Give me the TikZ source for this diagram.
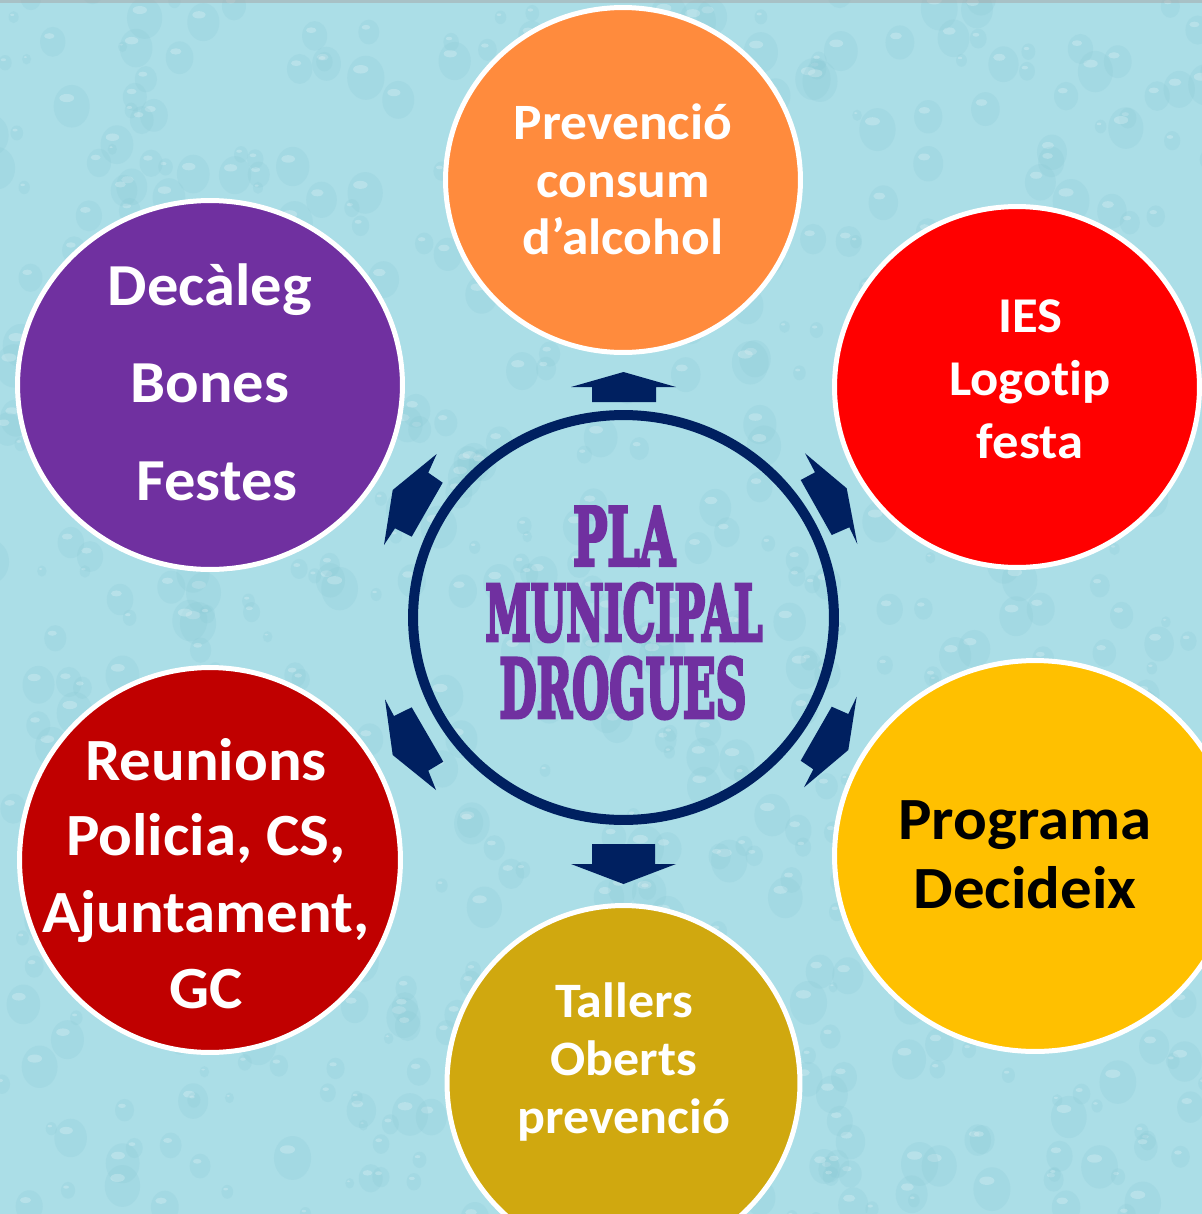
\documentclass[tikz,border=0pt]{standalone}
\usepackage{fontspec}
\usetikzlibrary{shapes.geometric}
\newfontfamily\calib{Carlito}[FakeStretch=1.05, Ligatures=NoCommon]
\newfontfamily\slab{DejaVu Serif}[BoldFeatures={FakeBold=5}]
\newcommand\setfs[2]{\fontsize{#1}{#2}\selectfont}
\definecolor{bgc}{HTML}{ABDEE7}
\definecolor{dropd}{HTML}{86C6D3}
\definecolor{navy}{HTML}{002060}
\definecolor{corange}{HTML}{FF8B3D}
\definecolor{cpurple}{HTML}{7030A0}
\definecolor{cred}{HTML}{FF0000}
\definecolor{cyellow}{HTML}{FFC000}
\definecolor{cdarkred}{HTML}{C00000}
\definecolor{colive}{HTML}{D0A80F}
\begin{document}
\begin{tikzpicture}[x=0.02cm,y=-0.02cm,
  bubble/.style={ellipse, draw=white, line width=0.1cm, inner sep=0pt},
  lbl/.style={anchor=base, inner sep=0pt, text=white, font=\calib\bfseries},
  big/.style={inner sep=0pt, text=cpurple, font=\slab\bfseries},
  arr/.style={fill=navy}]
\useasboundingbox (0,0) rectangle (1202,1214);
\clip (0,0) rectangle (1202,1214);
\fill[bgc] (0,0) rectangle (1202,1214);
% water drop texture
\pgfmathsetseed{17}
\foreach \i in {1,...,700}{
  \pgfmathsetmacro\xx{rnd*1220-10}
  \pgfmathsetmacro\yy{rnd*1230-10}
  \pgfmathsetmacro\rr{4+rnd*13}
  \fill[dropd, opacity=0.2] (\xx,\yy) ellipse [x radius={0.022cm*\rr}, y radius={0.026cm*\rr}];
  \fill[white, opacity=0.22] (\xx-0.3*\rr,\yy-0.5*\rr) ellipse [x radius={0.009cm*\rr}, y radius={0.005cm*\rr}];
}
\fill[black!35, opacity=0.5] (0,0) rectangle (1202,3);
% central ring
\draw[navy, line width=0.2cm] (623.5,617.5) ellipse [x radius=4.21cm, y radius=4.05cm];
% arrows
\fill[arr] (592,402) -- (592,387) -- (571,387) -- (623.5,372) -- (676,387) -- (656,387) -- (656,402) -- cycle;
\fill[arr] (592,844) -- (655,844) -- (655,864) -- (676,864) -- (623.5,884) -- (571,864) -- (592,864) -- cycle;
\fill[arr] (805,453.3) -- (815,472.3) -- (800.7,480) -- (831.7,535) -- (849.3,527.3) -- (857.3,544) -- (846.7,488.3) -- cycle;
\fill[arr] (436.7,454) -- (428.3,472.7) -- (442.7,482.7) -- (411.7,536.7) -- (395,528.3) -- (384,545) -- (392.7,490) -- cycle;
\fill[arr] (385,699.3) -- (394,716) -- (411.7,707.3) -- (443.3,761.7) -- (428.3,770.7) -- (436,790) -- (392.7,755) -- cycle;
\fill[arr] (856.7,696.7) -- (848.3,714) -- (831.7,706.7) -- (800.7,760.7) -- (813.3,769.3) -- (804,787.3) -- (848.3,750) -- cycle;
% circles
\node[bubble, fill=corange, minimum width=7.1cm, minimum height=6.9cm] (orange) at (623,180) {};
\node[bubble, fill=cpurple, minimum width=7.7cm, minimum height=7.38cm] (purple) at (210,385) {};
\node[bubble, fill=cred, minimum width=7.3cm, minimum height=7.22cm] (red) at (1017,387) {};
\node[bubble, fill=cyellow, minimum width=8.02cm, minimum height=7.82cm] (yellow) at (1035,856) {};
\node[bubble, fill=cdarkred, minimum width=7.62cm, minimum height=7.7cm] (darkred) at (210,860) {};
\node[bubble, fill=colive, minimum width=7.06cm, minimum height=7.1cm] (olive) at (623.5,1083) {};
% centre title
\node[big] (t1) at (624,536) {\resizebox{2.04cm}{1.16cm}{PLA}};
\node[big] (t2) at (624,612.5) {\resizebox{5.54cm}{1.14cm}{MUNICIPAL}};
\node[big] (t3) at (623,688) {\resizebox{4.94cm}{1.2cm}{DROGUES}};
% orange
\node[lbl, font=\calib\bfseries\setfs{29pt}{34pt}] (o1) at (623,139) {Prevenció};
\node[lbl, font=\calib\bfseries\setfs{29pt}{34pt}] (o2) at (623,197) {consum};
\node[lbl, font=\calib\bfseries\setfs{29pt}{34pt}] (o3) at (623,254) {d’alcohol};
% purple
\node[lbl, font=\calib\bfseries\setfs{33.9pt}{40pt}] (p1) at (210,305) {Decàleg};
\node[lbl, font=\calib\bfseries\setfs{33.9pt}{40pt}] (p2) at (210,402) {Bones};
\node[lbl, font=\calib\bfseries\setfs{33.9pt}{40pt}] (p3) at (217,500) {Festes};
% red
\node[lbl, font=\calib\bfseries\setfs{28.5pt}{34pt}] (r1) at (1030,332) {IES};
\node[lbl, font=\calib\bfseries\setfs{28.5pt}{34pt}] (r2) at (1030,395) {Logotip};
\node[lbl, font=\calib\bfseries\setfs{28.5pt}{34pt}] (r3) at (1030,458) {festa};
% yellow
\node[lbl, text=black, font=\calib\bfseries\setfs{34.1pt}{40pt}] (y1) at (1025,839) {Programa};
\node[lbl, text=black, font=\calib\bfseries\setfs{34.1pt}{40pt}] (y2) at (1025,908) {Decideix};
% dark red
\node[lbl, font=\calib\bfseries\setfs{34.1pt}{40pt}] (d1) at (206,780) {Reunions};
\node[lbl, font=\calib\bfseries\setfs{34.1pt}{40pt}] (d2) at (206,855) {Policia, CS,};
\node[lbl, font=\calib\bfseries\setfs{34.1pt}{40pt}] (d3) at (206,932) {Ajuntament,};
\node[lbl, font=\calib\bfseries\setfs{34.1pt}{40pt}] (d4) at (206,1008) {GC};
% olive
\node[lbl, font=\calib\bfseries\setfs{28.2pt}{34pt}] (v1) at (624,1017) {Tallers};
\node[lbl, font=\calib\bfseries\setfs{28.2pt}{34pt}] (v2) at (624,1075) {Oberts};
\node[lbl, font=\calib\bfseries\setfs{28.2pt}{34pt}] (v3) at (624,1133) {prevenció};
\end{tikzpicture}
\end{document}
